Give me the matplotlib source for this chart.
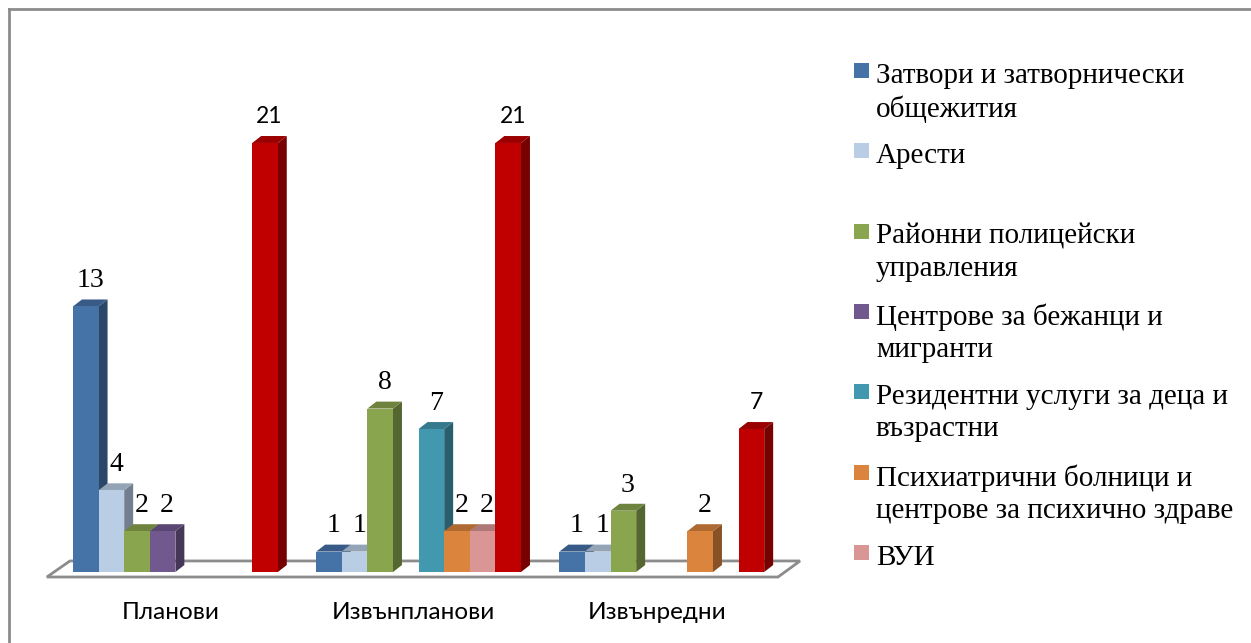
import matplotlib
matplotlib.use("Agg")
import matplotlib.pyplot as plt
from matplotlib.patches import Polygon, Rectangle
from matplotlib.lines import Line2D

# Данни
groups = ["Планови", "Извънпланови", "Извънредни"]
series_names = [
    "Затвори и затворнически\nобщежития",
    "Арести",
    "Районни полицейски\nуправления",
    "Центрове за бежанци и\nмигранти",
    "Резидентни услуги за деца и\nвъзрастни",
    "Психиатрични болници и\nцентрове за психично здраве",
    "ВУИ",
    "Общо",
]
zatvori = [13, 1, 1]
aresti = [4, 1, 1]
rpu = [2, 8, 3]
bejanci = [2, None, None]
rezidentni = [None, 7, None]
psihiatrichni = [None, 2, 2]
vui = [None, 2, None]
obshto = [21, 21, 7]
all_series = [zatvori, aresti, rpu, bejanci, rezidentni, psihiatrichni, vui, obshto]

colors = ["#4572A7", "#B9CDE5", "#89A54E", "#71588F", "#4198AF", "#DB843D", "#D99694", "#C00000"]

def shade(c, f):
    r, g, b = matplotlib.colors.to_rgb(c)
    return (r * f, g * f, b * f)

W, H = 1251, 643
fig = plt.figure(figsize=(W / 100, H / 100), dpi=100)

# axes placed so that bar slots are 25.6 px, 1 unit = 20.4 px
x0_px, xlim = 73 - 1.2 * 25.6, (-1.2, 29.0)
ylim = (-1.5, 22.5)
ax_w = (xlim[1] - xlim[0]) * 25.6
ax_h = (ylim[1] - ylim[0]) * 20.43
bottom_px = 572 + 1.5 * 20.43
ax = fig.add_axes([x0_px / W, (H - bottom_px) / H, ax_w / W, ax_h / H])
ax.set_xlim(*xlim)
ax.set_ylim(*ylim)
ax.axis("off")

dx, dy = 0.35, 0.34
group_step = 9.5
n = len(all_series)
sans = ["Lato", "DejaVu Sans"]

# под (floor)
floor = Polygon([(-1.02, -0.245), (27.54, -0.245), (28.4, 0.54), (-0.12, 0.54)],
                closed=True, facecolor="white", edgecolor="#8C8C8C", lw=2, zorder=1)
ax.add_patch(floor)

z = 2
for g in range(len(groups)):
    for i, s in enumerate(all_series):
        v = s[g]
        if v is None:
            continue
        left = g * group_step + i
        c = colors[i]
        ax.add_patch(Polygon([(left + 1, 0), (left + 1 + dx, dy), (left + 1 + dx, v + dy), (left + 1, v)],
                             closed=True, facecolor=shade(c, 0.62), edgecolor="none", zorder=z))
        ax.add_patch(Polygon([(left, v), (left + dx, v + dy), (left + 1 + dx, v + dy), (left + 1, v)],
                             closed=True, facecolor=shade(c, 0.8), edgecolor="none", zorder=z))
        ax.add_patch(Rectangle((left, 0), 1, v, facecolor=c, edgecolor="none", zorder=z + 1))
        z += 2
        if i == n - 1:
            ax.text(left + 0.5 + dx / 2, v + dy + 0.45, str(v), ha="center", va="bottom",
                    fontsize=16.5, family=sans, zorder=100)
        else:
            ax.text(left + 0.5 + dx / 2, v + dy + 0.3, str(v), ha="center", va="bottom",
                    fontsize=20, family="Liberation Serif", zorder=100)

for g, name in enumerate(groups):
    ax.text(g * group_step + 3.8, -2.0, name, ha="center", va="center",
            fontsize=17.5, family=sans)

# легенда
for k in range(7):
    yc = 75 + k * 80.3
    fig.patches.append(Rectangle((854 / W, 1 - (yc + 3) / H), 15 / W, 15 / H,
                                 transform=fig.transFigure, facecolor=colors[k], edgecolor="none"))
    fig.text(876 / W, 1 - (yc - 12) / H, series_names[k], ha="left", va="top",
             fontsize=21, family="Liberation Serif", linespacing=1.3)

# рамка
fig.add_artist(Line2D([9 / W, 1], [1 - 9 / H, 1 - 9 / H], color="#8C8C8C", lw=2))
fig.add_artist(Line2D([9 / W, 9 / W], [0, 1 - 9 / H], color="#8C8C8C", lw=2))

fig.savefig("out.png", dpi=100)
